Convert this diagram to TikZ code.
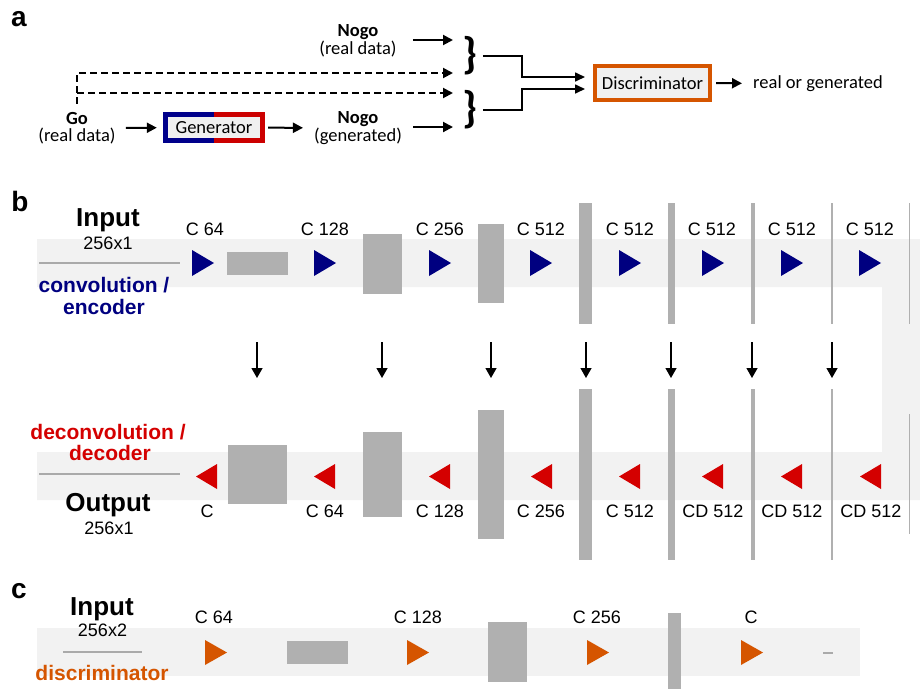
\documentclass[tikz,border=0pt]{standalone}
\usepackage{fontspec}
\setmainfont{Liberation Sans}
\newfontfamily\calibri{Carlito}
\usetikzlibrary{arrows.meta}

\definecolor{encblue}{HTML}{000080}
\definecolor{decred}{HTML}{D40000}
\definecolor{discorange}{HTML}{D55500}
\definecolor{bandgray}{HTML}{F2F2F2}
\definecolor{blockgray}{HTML}{B0B0B0}
\definecolor{linegray}{HTML}{AAAAAA}
\definecolor{genblue}{HTML}{00008B}
\definecolor{genred}{HTML}{CC0000}
\definecolor{boxfill}{HTML}{F0F0F0}

\tikzset{
  panel/.style={font=\fontsize{28}{28}\selectfont\bfseries, anchor=base, inner sep=0pt},
  atext/.style={font=\calibri\fontsize{18.5}{17.5}\selectfont, align=center, inner sep=0pt},
  flow/.style={line width=2pt, -{Triangle[length=10pt,width=10pt]}},
  dashflow/.style={flow, dash pattern=on 7pt off 4pt},
  joinflow/.style={line width=1.6pt, -{Triangle[length=10pt,width=9pt]}},
  genbox/.style={fill=boxfill, minimum width=97pt, minimum height=26pt, inner sep=0pt,
                 font=\calibri\fontsize{18.5}{18.5}\selectfont},
  discbox/.style={draw=discorange, line width=4pt, fill=boxfill, minimum width=115pt,
                  minimum height=34pt, inner sep=0pt, font=\calibri\fontsize{18.5}{18.5}\selectfont},
  bracetext/.style={font=\calibri\bfseries\fontsize{44}{44}\selectfont, inner sep=0pt},
  bigbold/.style={font=\fontsize{26}{26}\selectfont\bfseries, anchor=base, inner sep=0pt},
  sizetext/.style={font=\fontsize{18}{18}\selectfont, anchor=base, inner sep=0pt},
  lab/.style={font=\fontsize{18}{18}\selectfont, anchor=base, inner sep=0pt},
  sidetext/.style={font=\fontsize{21}{21}\selectfont\bfseries, anchor=base, inner sep=0pt},
  downarrow/.style={line width=1.3pt, -{Triangle[length=10pt,width=11pt]}},
  inputline/.style={linegray, line width=2pt},
}

\begin{document}
\begin{tikzpicture}[x=1pt, y=-1pt]
\useasboundingbox (0,0) rectangle (920,689);

% ---------------- panel a: adversarial setup ----------------
\node[panel] (pa) at (19,26.7) {a};

\node[atext] (nogo1) at (358,41) {\textbf{Nogo}\\(real data)};
\node[atext] (go) at (77,128) {\textbf{Go}\\(real data)};
\node[atext] (nogo2) at (358,128) {\textbf{Nogo}\\(generated)};
\node[genbox] (gen) at (214,127.5) {Generator};
\draw[genblue, line width=5pt] (gen.north) -- (gen.north west) -- (gen.south west) -- (gen.south);
\draw[genred, line width=5pt] (gen.north) -- (gen.north east) -- (gen.south east) -- (gen.south);

\coordinate (in1) at (453,40);
\coordinate (in2) at (453,73);
\coordinate (in3) at (453,93);
\coordinate (in4) at (453,127);

\draw[flow, shorten <=16pt] (nogo1.east |- in1) -- (in1);
\draw[flow, shorten <=11pt] (nogo2.east |- in4) -- (in4);
\draw[flow, shorten <=10pt, shorten >=8.5pt] (go) -- (gen);
\draw[flow, shorten <=5.5pt, shorten >=11pt] (gen) -- (nogo2);
\draw[dashflow, shorten <=8pt] (go.north) |- (in2);
\draw[dashflow] (go.north |- in3) -- (in3);

\node[bracetext] (br1) at (470,56) {\}};
\node[bracetext] (br2) at (470,110) {\}};

\node[discbox] (disc) at (652.5,83) {Discriminator};
\draw[joinflow, shorten <=5pt, shorten >=8pt] (br1.east) -| (522,77) -- ([yshift=6pt]disc.west);
\draw[joinflow, shorten <=5pt, shorten >=8pt] (br2.east) -| (522,89) -- ([yshift=-6pt]disc.west);

\node[atext, anchor=west] (verdict) at (753,83.5) {real or generated};
\draw[flow, shorten <=4pt, shorten >=11pt] (disc) -- (verdict);

% ---------------- panel b: U-Net generator ----------------
\node[panel] (pb) at (20,211.7) {b};

% band running right along the encoder and back along the decoder
\fill[bandgray] (37,239) -- (920,239) -- (920,500) -- (37,500) -- (37,452)
                -- (882,452) -- (882,287) -- (37,287) -- cycle;

% encoder feature blocks
\foreach \x/\w/\t/\b in {227/61/252/275, 363/39/234/294, 478/26/224/303,
    579/13/203/324, 668/7/203/324, 751/4/203/324, 831/2/203/324, 909/1.3/203/324}
  \fill[blockgray] (\x,\t) rectangle (\x+\w,\b);

% decoder feature blocks
\foreach \x/\w/\t/\b in {228/59/445/504, 363/39/432/517, 478/26/410/539,
    579/13/389/560, 668/7/389/560, 751/4/389/560, 831/2/389/560, 909/1.3/414/534}
  \fill[blockgray] (\x,\t) rectangle (\x+\w,\b);

% encoder steps
\foreach \x in {192,314,429,530,619,702,781,859}
  \fill[encblue] (\x,250) -- (\x+22,263) -- (\x,276) -- cycle;
\foreach \x/\l [count=\i] in {205/C 64, 325/C 128, 440/C 256, 541/C 512,
    630/C 512, 712/C 512, 792/C 512, 870/C 512}
  \node[lab] (enc\i) at (\x,235) {\l};

% decoder steps
\foreach \x in {196,314,429,531,619,702,781,860}
  \fill[decred] (\x+21,464) -- (\x,476.5) -- (\x+21,489) -- cycle;
\foreach \x/\l [count=\i] in {207/C, 325/C 64, 440/C 128, 541/C 256,
    630/C 512, 713/CD 512, 792/CD 512, 871/CD 512}
  \node[lab] (dec\i) at (\x,517) {\l};

% skip connections
\foreach \x in {257,382,491,586,671,752,832}
  \draw[downarrow] (\x,342) -- (\x,378);

% input / output side
\node[bigbold] (inb) at (108,226.7) {Input};
\node[sizetext] (inbsz) at (108,249) {256x1};
\draw[inputline] (39,263) -- (180,263);
\node[sidetext, text=encblue] (encname1) at (104,292.7) {convolution /};
\node[sidetext, text=encblue] (encname2) at (104,314) {encoder};

\node[sidetext, text=decred] (decname1) at (108,439) {deconvolution /};
\node[sidetext, text=decred] (decname2) at (110,460) {decoder};
\draw[inputline] (39,474) -- (180,474);
\node[bigbold] (outb) at (108,511.7) {Output};
\node[sizetext] (outbsz) at (109,534) {256x1};

% ---------------- panel c: discriminator ----------------
\node[panel] (pc) at (19,598) {c};

\fill[bandgray] (37,628) rectangle (860,676);
\fill[blockgray] (287,641) rectangle (348,664);
\fill[blockgray] (488,622) rectangle (527,682);
\fill[blockgray] (668,613) rectangle (681,689);
\draw[linegray, line width=2pt] (823,653) -- (833,653);

\foreach \x in {205,407,587,741}
  \fill[discorange] (\x,640) -- (\x+22,652.5) -- (\x,665) -- cycle;
\foreach \x/\l [count=\i] in {214/C 64, 418/C 128, 597/C 256, 751/C}
  \node[lab] (dis\i) at (\x,623) {\l};

\node[bigbold] (inc) at (102,615.7) {Input};
\node[sizetext] (incsz) at (102.5,636.7) {256x2};
\draw[inputline] (63,652) -- (142,652);
\node[sidetext, text=discorange] (disname) at (102,680) {discriminator};

\end{tikzpicture}
\end{document}
